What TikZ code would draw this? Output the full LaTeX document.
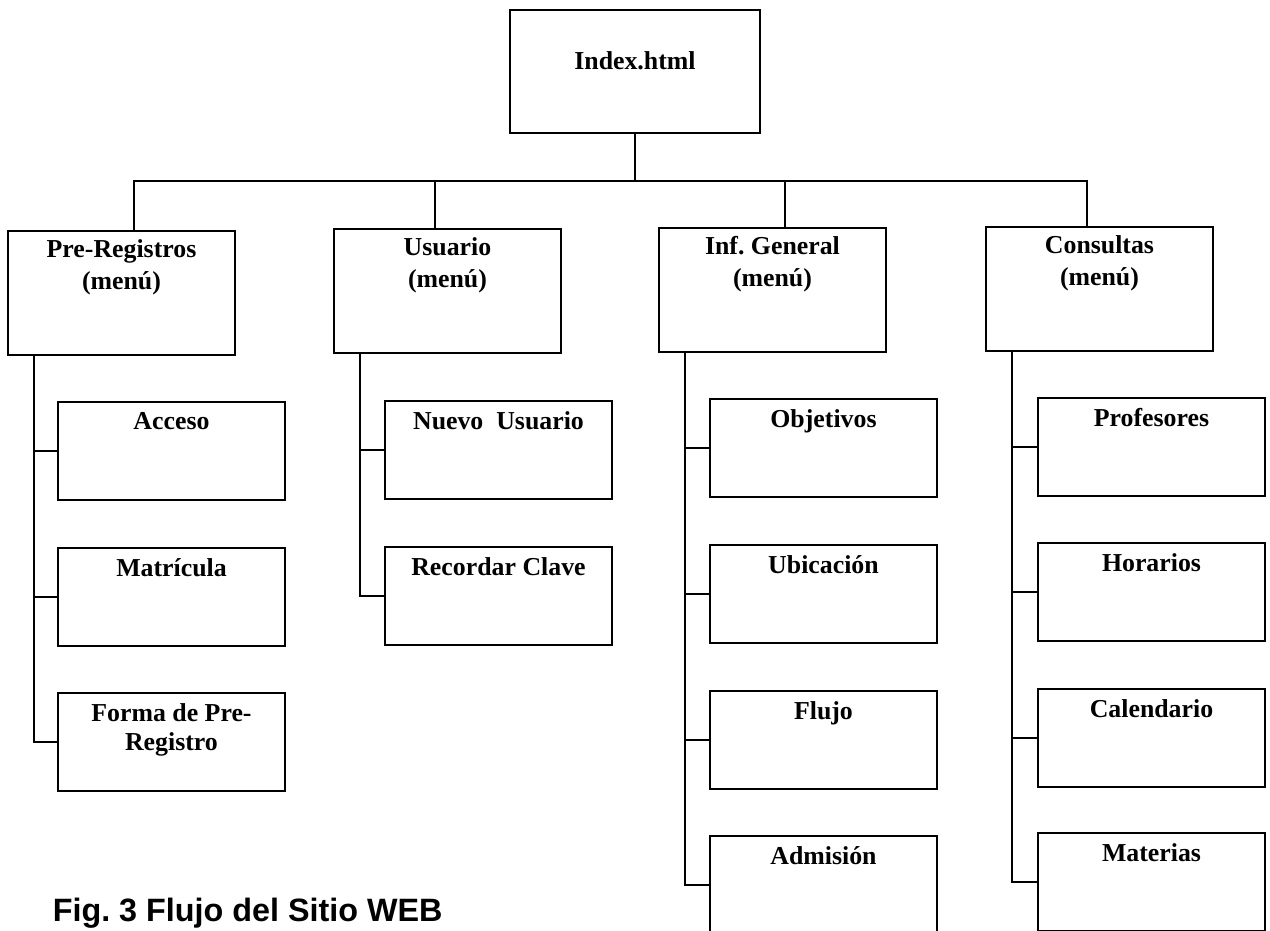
\documentclass[tikz,border=0pt]{standalone}
\usepackage{fontspec}
\setmainfont{Liberation Serif}
\setsansfont{Liberation Sans}
\usepackage{tikz}

\begin{document}
\begin{tikzpicture}[x=0.02cm, y=-0.02cm, line width=0.9pt,
	boxtext/.style={anchor=north, inner sep=0pt, align=center, font=\bfseries\fontsize{14.7}{16.5}\selectfont},
	indexbox/.style={draw, outer sep=0pt, anchor=north west, minimum width=5cm, minimum height=2.46cm, label={[boxtext, yshift=-0.82cm]north:{#1}}},
	menubox/.style={draw, outer sep=0pt, anchor=north west, minimum width=4.54cm, minimum height=2.48cm, label={[boxtext, yshift=-0.16cm, font=\bfseries\fontsize{14.7}{18}\selectfont]north:{#1}}},
	pagebox/.style={draw, outer sep=0pt, anchor=north west, minimum width=4.54cm, minimum height=1.96cm, label={[boxtext, yshift=-0.2cm]north:{#1}}}]
	\useasboundingbox (0,0) rectangle (1270,930);
	\clip (0,0) rectangle (1270,930);

	\node[indexbox={Index.html}] (index) at (510,10) {};
	\coordinate (bus) at (635,181);

	\node[menubox={Pre-Registros\\(menú)}] (pre) at (8,231) {};
	\node[menubox={Usuario\\(menú)}] (usr) at (334,229) {};
	\node[menubox={Inf.\ General\\(menú)}] (inf) at (659,228) {};
	\node[menubox={Consultas\\(menú)}] (cons) at (986,227) {};

	\node[pagebox={Acceso}] (acceso) at (58,402) {};
	\node[pagebox={Matrícula}] (matri) at (58,548) {};
	\node[pagebox={Forma de Pre-\\Registro}] (forma) at (58,693) {};

	\node[pagebox={Nuevo\ \ Usuario}] (nuevo) at (385,401) {};
	\node[pagebox={Recordar Clave}] (clave) at (385,547) {};

	\node[pagebox={Objetivos}] (obj) at (710,399) {};
	\node[pagebox={Ubicación}] (ubic) at (710,545) {};
	\node[pagebox={Flujo}] (flujo) at (710,691) {};
	\node[pagebox={Admisión}] (admis) at (710,836) {};

	\node[pagebox={Profesores}] (prof) at (1038,398) {};
	\node[pagebox={Horarios}] (hor) at (1038,543) {};
	\node[pagebox={Calendario}] (cal) at (1038,689) {};
	\node[pagebox={Materias}] (mat) at (1038,833) {};

	\node[anchor=base west, inner sep=0pt, font=\sffamily\bfseries\fontsize{18.4}{22}\selectfont] (caption) at (52,921) {Fig.\ 3 Flujo del Sitio WEB};

	% index
	\draw (index.south) -- (bus);
	\draw ([xshift=0.25cm]pre.north) |- (bus);
	\draw ([xshift=-0.25cm]usr.north) |- (bus);
	\draw ([xshift=0.25cm]inf.north) |- (bus);
	\draw ([xshift=-0.25cm]cons.north) |- (bus);
	% pre-registros
	\draw ([xshift=0.52cm]pre.south west) |- (acceso.west);
	\draw ([xshift=0.52cm]pre.south west) |- (matri.west);
	\draw ([xshift=0.52cm]pre.south west) |- (forma.west);
	% usuario
	\draw ([xshift=0.52cm]usr.south west) |- (nuevo.west);
	\draw ([xshift=0.52cm]usr.south west) |- (clave.west);
	% inf. general
	\draw ([xshift=0.52cm]inf.south west) |- (obj.west);
	\draw ([xshift=0.52cm]inf.south west) |- (ubic.west);
	\draw ([xshift=0.52cm]inf.south west) |- (flujo.west);
	\draw ([xshift=0.52cm]inf.south west) |- (admis.west);
	% consultas
	\draw ([xshift=0.52cm]cons.south west) |- (prof.west);
	\draw ([xshift=0.52cm]cons.south west) |- (hor.west);
	\draw ([xshift=0.52cm]cons.south west) |- (cal.west);
	\draw ([xshift=0.52cm]cons.south west) |- (mat.west);
\end{tikzpicture}
\end{document}
